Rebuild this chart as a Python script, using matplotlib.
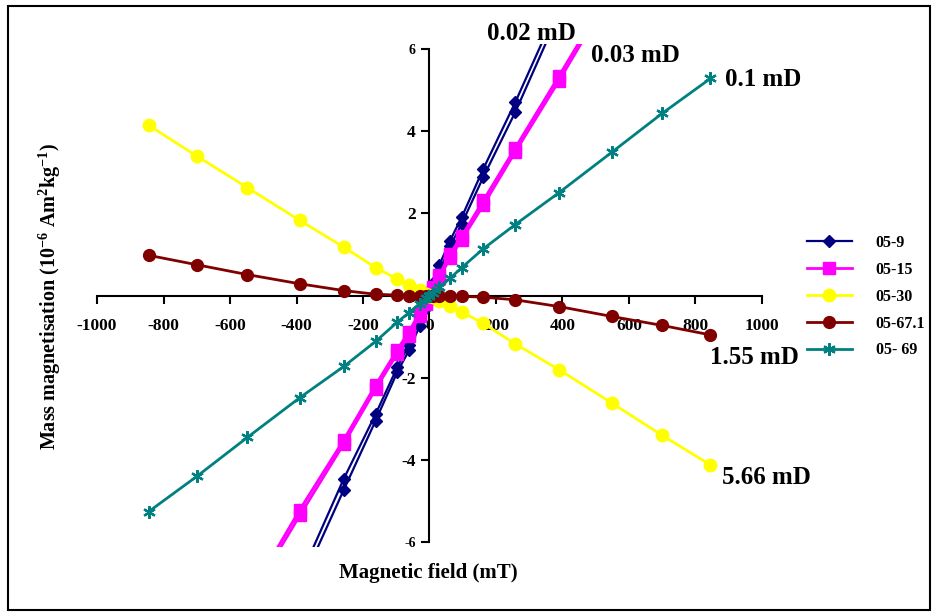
import matplotlib
matplotlib.use("Agg")
import matplotlib.pyplot as plt
from matplotlib.patches import Rectangle

plt.rcParams['font.family'] = ['Liberation Serif', 'DejaVu Serif']
plt.rcParams['font.weight'] = 'bold'
plt.rcParams['mathtext.fontset'] = 'custom'
plt.rcParams['mathtext.rm'] = 'Liberation Serif:bold'
plt.rcParams['mathtext.it'] = 'Liberation Serif:bold'
plt.rcParams['mathtext.bf'] = 'Liberation Serif:bold'

# Magnetic field (mT)
field = [-845, -700, -548, -390, -258, -162, -97, -62, -30, -10, 0,
         10, 30, 62, 97, 162, 258, 390, 548, 700, 845]

# Mass magnetisation (10^-6 Am2/kg) - two branches for the steep samples
s05_9_a = [-15.0, -12.4, -9.7, -6.88, -4.47, -2.89, -1.75, -1.20, -0.60, -0.20, 0.10,
           0.30, 0.75, 1.34, 1.91, 3.09, 4.71, 7.10, 9.90, 12.6, 15.2]
s05_9_b = [-15.2, -12.6, -9.9, -7.10, -4.74, -3.05, -1.87, -1.34, -0.75, -0.30, -0.10,
           0.20, 0.60, 1.20, 1.75, 2.89, 4.47, 6.88, 9.70, 12.4, 15.0]
s05_15_a = [-11.5, -9.5, -7.4, -5.22, -3.52, -2.18, -1.32, -0.88, -0.42, -0.14, 0.05,
            0.20, 0.50, 1.02, 1.45, 2.32, 3.60, 5.36, 7.50, 9.6, 11.6]
s05_15_b = [-11.6, -9.6, -7.5, -5.36, -3.62, -2.28, -1.42, -0.98, -0.50, -0.20, -0.05,
            0.14, 0.42, 0.92, 1.36, 2.20, 3.50, 5.24, 7.40, 9.5, 11.5]
s05_30 = [4.15, 3.40, 2.63, 1.83, 1.18, 0.68, 0.40, 0.26, 0.13, 0.04, 0.0,
          -0.04, -0.13, -0.26, -0.40, -0.68, -1.18, -1.81, -2.62, -3.41, -4.13]
s05_67 = [0.98, 0.75, 0.51, 0.285, 0.12, 0.03, 0.01, 0.0, 0.0, 0.0, 0.0,
          0.0, 0.0, -0.01, -0.02, -0.04, -0.105, -0.27, -0.51, -0.73, -0.96]
s05_69 = [-5.27, -4.41, -3.46, -2.49, -1.73, -1.12, -0.65, -0.42, -0.20, -0.07, 0.0,
          0.07, 0.20, 0.42, 0.68, 1.14, 1.73, 2.51, 3.49, 4.44, 5.29]

labels = ['05-9', '05-15', '05-30', '05-67.1', '05- 69']
xticks = [-1000, -800, -600, -400, -200, 0, 200, 400, 600, 800, 1000]
yticks = [-6, -4, -2, 0, 2, 4, 6]
notes = ['0.02 mD', '0.03 mD', '0.1 mD', '1.55 mD', '5.66 mD']

W, H = 937, 616
fig = plt.figure(figsize=(W / 100, H / 100), dpi=100)
ax = fig.add_axes([97 / W, 1 - 547 / H, 665 / W, 503 / H])
ax.set_xlim(-1000, 1000)
ax.set_ylim(-6.13, 6.13)

navy, mag, yel, brn, teal = '#000080', '#FF00FF', '#FFFF00', '#800000', '#008080'
star = (6, 2, 0)

h1, = ax.plot(field, s05_9_a, color=navy, lw=1.6, marker='D', ms=6.5, zorder=3)
ax.plot(field, s05_9_b, color=navy, lw=1.6, marker='D', ms=6.5, zorder=3)
h2, = ax.plot(field, s05_15_a, color=mag, lw=2, marker='s', ms=8.5, zorder=4)
ax.plot(field, s05_15_b, color=mag, lw=2, marker='s', ms=8.5, zorder=4)
h3, = ax.plot(field, s05_30, color=yel, lw=2, marker='o', ms=9, zorder=5)
h4, = ax.plot(field, s05_67, color=brn, lw=2, marker='o', ms=8.5, zorder=6)
h5, = ax.plot(field, s05_69, color=teal, lw=2, marker=star, ms=9, mew=1.6, zorder=7)

for s in ['top', 'right']:
    ax.spines[s].set_visible(False)
ax.spines['left'].set_position(('data', 0))
ax.spines['bottom'].set_position(('data', 0))
ax.spines['left'].set_bounds(-6, 6)
ax.spines['left'].set_linewidth(1.5)
ax.spines['bottom'].set_linewidth(1.5)
ax.spines['left'].set_zorder(2)
ax.spines['bottom'].set_zorder(2)

ax.set_xticks(xticks)
ax.set_xticklabels([str(v) for v in xticks])
ax.set_yticks(yticks)
ax.set_yticklabels([str(v) for v in yticks])
ax.tick_params(axis='x', direction='out', length=6, width=1.5, pad=10, labelsize=12.5)
ax.tick_params(axis='y', direction='out', length=6, width=1.5, pad=4, labelsize=12.5)
for t in ax.get_xticklabels() + ax.get_yticklabels():
    t.set_fontweight('bold')
for t, v in zip(ax.get_yticklabels(), yticks):
    if abs(v) == 6:
        t.set_fontsize(10)
ax.patch.set_alpha(0)

fig.text(428 / W, 1 - 573 / H, 'Magnetic field (mT)', ha='center', va='center',
         fontsize=15, fontweight='bold')
fig.text(50 / W, 1 - 297 / H, r'Mass magnetisation (10$^{-6}$ Am$^{2}$kg$^{-1}$)',
         ha='center', va='center', rotation=90, fontsize=14.5, fontweight='bold')

note_pos = [(487, 33), (591, 55), (725, 80), (710, 357), (722, 478)]
for txt, (px, py) in zip(notes, note_pos):
    fig.text(px / W, 1 - py / H, txt, ha='left', va='center', fontsize=18, fontweight='bold')

fig.legend([h1, h2, h3, h4, h5], labels, loc='upper left',
           bbox_to_anchor=(807 / W, 1 - 235 / H), frameon=False,
           borderpad=0, borderaxespad=0, handlelength=2.8, handletextpad=1.5,
           labelspacing=0.68, prop={'family': 'Liberation Serif', 'weight': 'bold', 'size': 11.5})

fig.patches.append(Rectangle((8 / W, 6 / H), (930 - 8) / W, (610 - 6) / H,
                             transform=fig.transFigure, fill=False, lw=1.5,
                             edgecolor='black'))

fig.savefig('out.png', dpi=100)
